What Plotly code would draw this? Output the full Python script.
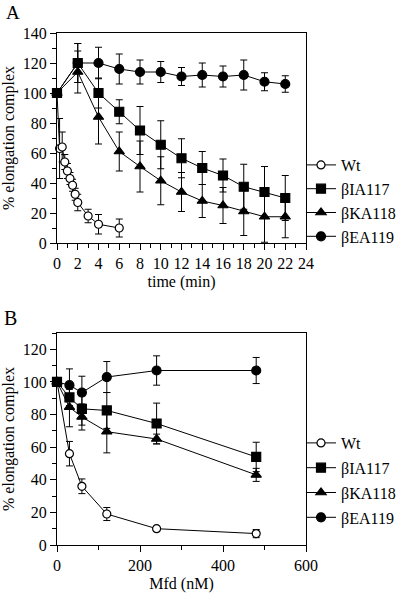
import plotly.graph_objects as go

FONT = "Liberation Serif"

# ---- Panel A data (time course) ----
wt_t = [0, 0.25, 0.5, 0.75, 1, 1.25, 1.5, 1.75, 2, 3, 4, 6]
wt_a = [100, 63, 64, 54, 48, 43, 38.5, 32.5, 27, 18, 12.5, 10]
wt_a_err = [0, 20, 10, 5, 5, 4, 4, 4, 5.5, 4.5, 6.5, 6]

mut_t = [0, 2, 4, 6, 8, 10, 12, 14, 16, 18, 20, 22]
ia_a = [100, 120, 100, 87.5, 75, 65.5, 56.5, 50, 45, 37.5, 34, 30]
ia_a_err = [0, 13, 10, 8, 16, 16, 13, 11, 11, 15, 17, 15]
ka_a = [100, 114, 84, 61, 51, 41.5, 34, 28, 25, 21, 17.5, 17.5]
ka_a_err = [0, 14, 18, 13, 17, 16, 13, 11, 12, 16, 17, 14]
ea_a = [100, 120, 120, 116, 114, 114, 111, 112, 111, 112, 107.5, 106]
ea_a_err = [0, 13, 10.5, 10, 8, 7, 6, 8, 7, 10, 6, 5.5]

# ---- Panel B data (Mfd titration) ----
mfd = [0, 30, 60, 120, 240, 480]
wt_b = [100, 56, 36, 19, 10, 7]
wt_b_err = [0, 7.5, 4.5, 4, 1.5, 2.5]
ia_b = [100, 90.5, 83.5, 82.5, 74.5, 54]
ia_b_err = [0, 5, 10, 11, 12.5, 9]
ka_b = [100, 84.5, 78.5, 69.5, 65, 43]
ka_b_err = [0, 12, 8, 13, 3, 4]
ea_b = [100, 98, 93.5, 103, 107, 107]
ea_b_err = [0, 10, 10, 9.5, 9, 8]

names = ["Wt", "βIA117", "βKA118", "βEA119"]
symbols = ["circle", "square", "triangle-up", "circle"]
fills = ["white", "black", "black", "black"]
sizes = [8, 9, 9, 9]

fig = go.Figure()

def add(x, y, err, i, xa, ya, leg):
    fig.add_trace(go.Scatter(
        x=x, y=y, mode="lines+markers", name=names[i],
        xaxis=xa, yaxis=ya, legend=leg, legendgroup=leg + names[i],
        line=dict(color="black", width=1),
        marker=dict(symbol=symbols[i], size=sizes[i], color=fills[i],
                    line=dict(color="black", width=1.2)),
        error_y=dict(type="data", array=err, visible=True, color="black",
                     thickness=1, width=3.5),
        cliponaxis=False,
    ))

add(wt_t, wt_a, wt_a_err, 0, "x", "y", "legend")
add(mut_t, ia_a, ia_a_err, 1, "x", "y", "legend")
add(mut_t, ka_a, ka_a_err, 2, "x", "y", "legend")
add(mut_t, ea_a, ea_a_err, 3, "x", "y", "legend")

add(mfd, wt_b, wt_b_err, 0, "x2", "y2", "legend2")
add(mfd, ia_b, ia_b_err, 1, "x2", "y2", "legend2")
add(mfd, ka_b, ka_b_err, 2, "x2", "y2", "legend2")
add(mfd, ea_b, ea_b_err, 3, "x2", "y2", "legend2")

W, H = 402, 600
axcommon = dict(showline=True, linecolor="black", linewidth=1, mirror=True,
                ticks="outside", ticklen=6, tickcolor="black", tickwidth=1,
                showgrid=False, zeroline=False, automargin=False,
                tickfont=dict(family=FONT, size=16, color="black"))

xdom = [57 / W, 306 / W]
fig.update_layout(
    template="none",
    width=W, height=H, margin=dict(l=0, r=0, t=0, b=0),
    paper_bgcolor="white", plot_bgcolor="white",
    font=dict(family=FONT, color="black", size=16),
    xaxis=dict(domain=xdom, anchor="y", range=[0, 24], dtick=2,
               minor=dict(dtick=1, ticks="outside", ticklen=4, tickcolor="black"),
               title=dict(text="time (min)", font=dict(family=FONT, size=16), standoff=4),
               **axcommon),
    yaxis=dict(domain=[1 - 243 / H, 1 - 33 / H], anchor="x", range=[0, 140], dtick=20,
               minor=dict(dtick=10, ticks="outside", ticklen=4, tickcolor="black"),
               title=dict(text="% elongation complex", font=dict(family=FONT, size=16), standoff=6),
               **axcommon),
    xaxis2=dict(domain=xdom, anchor="y2", range=[0, 600], dtick=200,
                minor=dict(dtick=100, ticks="outside", ticklen=4, tickcolor="black"),
                title=dict(text="Mfd (nM)", font=dict(family=FONT, size=16), standoff=4),
                **axcommon),
    yaxis2=dict(domain=[1 - 545 / H, 1 - 333 / H], anchor="x2", range=[0, 130], dtick=20,
                minor=dict(dtick=10, ticks="outside", ticklen=4, tickcolor="black"),
                title=dict(text="% elongation complex", font=dict(family=FONT, size=16), standoff=6),
                **axcommon),
    legend=dict(x=301 / W, xanchor="left", y=1 - 148 / H, yanchor="top",
                bgcolor="rgba(0,0,0,0)", tracegroupgap=0, traceorder="grouped",
                font=dict(family=FONT, size=16), itemwidth=30),
    legend2=dict(x=301 / W, xanchor="left", y=1 - 426 / H, yanchor="top",
                 bgcolor="rgba(0,0,0,0)", tracegroupgap=1, traceorder="grouped",
                 font=dict(family=FONT, size=16), itemwidth=30),
    annotations=[
        dict(text="A", x=4 / W, y=1 - 0 / H, xref="paper", yref="paper",
             xanchor="left", yanchor="top", showarrow=False,
             font=dict(family=FONT, size=19)),
        dict(text="B", x=2 / W, y=1 - 305 / H, xref="paper", yref="paper",
             xanchor="left", yanchor="top", showarrow=False,
             font=dict(family=FONT, size=20)),
    ],
)

fig.write_html("out.html", config={"displayModeBar": False},
               post_script="document.body.style.margin='0';")
